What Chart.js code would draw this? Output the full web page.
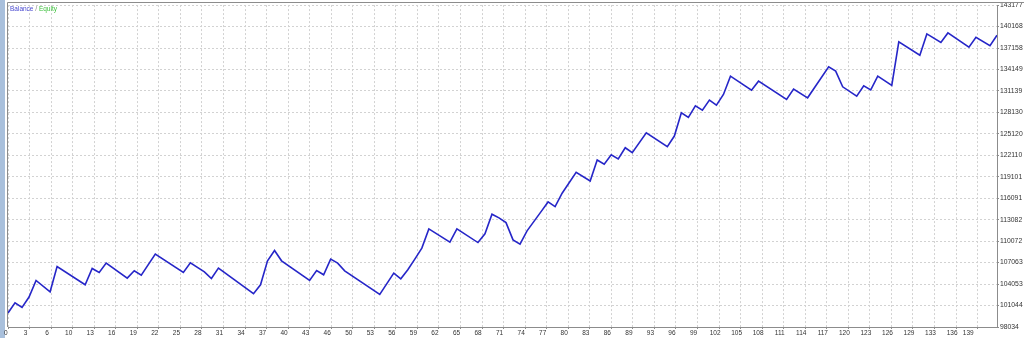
<!DOCTYPE html>
<html>
<head>
<meta charset="utf-8">
<script src="https://cdn.jsdelivr.net/npm/chart.js@4.4.1/dist/chart.umd.min.js"></script>
<style>
  html, body { margin: 0; padding: 0; background: #fff; }
  #wrap { position: relative; width: 1024px; height: 338px; overflow: hidden; }
  #edge { position: absolute; left: 0; top: 0; width: 5px; height: 338px; background: #a9c0dc; }
  #chart { position: absolute; left: 0; top: 0; }
  #title { position: absolute; left: 10px; top: 5px; font: 6.5px 'Liberation Sans', sans-serif; color: #888; white-space: nowrap; }
  #title .bal { color: #4a4ad0; }
  #title .eq { color: #3cc03c; }
</style>
</head>
<body>
<div id="wrap">
  <div id="edge"></div>
  <canvas id="chart" width="1024" height="338"></canvas>
  <div id="title"><span class="bal">Balance</span> / <span class="eq">Equity</span></div>
</div>
<script>
// ── Data (trade number -> balance) ─────────────────────────────────
const TRADES = [
  0, 1, 2, 3, 4, 6, 7, 11, 12, 13, 14, 17, 18, 19, 21, 25, 26, 28, 29, 30,
  35, 36, 37, 38, 39, 43, 44, 45, 46, 47, 48, 53, 55, 56, 57, 58, 59, 60, 63, 64,
  67, 68, 69, 70, 71, 72, 73, 74, 76, 77, 78, 79, 81, 83, 84, 85, 86, 87, 88, 89,
  91, 94, 95, 96, 97, 98, 99, 100, 101, 102, 103, 106, 107, 111, 112, 114, 117, 118, 119, 121,
  122, 123, 124, 126, 127, 130, 131, 133, 134, 137, 138, 140, 141,
];
const BALANCE = [
  100000, 101435, 100778, 102233, 104557, 102975, 106517, 103955, 106237, 105677,
  106993, 104893, 105915, 105313, 108253, 105677, 107035, 105775, 104837, 106293,
  102695, 103955, 107315, 108756, 107315, 104557, 105957, 105355, 107553, 106993,
  105915, 102597, 105593, 104795, 106055, 107553, 109092, 111794, 109932, 111794,
  109876, 111094, 113852, 113334, 112676, 110254, 109652, 111514, 114216, 115573,
  114916, 116791, 119731, 118513, 121453, 120851, 122195, 121593, 123174, 122474,
  125274, 123314, 124812, 128074, 127430, 129054, 128452, 129851, 129151, 130649,
  133211, 131251, 132511, 129949, 131391, 130173, 134513, 133911, 131713, 130411,
  131853, 131293, 133211, 131909, 138012, 136151, 139132, 137928, 139272, 137270,
  138670, 137480, 138950,
];
const X_LABELS = [
  '0', '3', '6', '10', '13', '16', '19', '22', '25', '28', '31', '34', '37', '40', '43', '46',
  '50', '53', '56', '59', '62', '65', '68', '71', '74', '77', '80', '83', '86', '89',
  '93', '96', '99', '102', '105', '108', '111', '114', '117', '120', '123', '126', '129',
  '133', '136', '139',
];
const Y_TICKS = [
  98034, 101044, 104053, 107063, 110072, 113082, 116091, 119101,
  122110, 125120, 128130, 131139, 134149, 137158, 140168, 143177,
];

// ── Style ───────────────────────────────────────────────────────────
const GRID_STEP = 3.072;          // trades between vertical grid lines
const AXIS_COLOR = '#8c8c8c';
const GRID_COLOR = '#d2d2d2';
const TEXT_COLOR = '#333333';
const FONT = "'Liberation Sans', sans-serif";

// frame lines of the tester window (top edge + left edge)
const framePlugin = {
  id: 'frame',
  beforeDatasetsDraw(chart) {
    const { ctx, chartArea: a } = chart;
    ctx.save();
    ctx.strokeStyle = AXIS_COLOR;
    ctx.lineWidth = 1;
    ctx.beginPath();
    ctx.moveTo(a.left - 0.5, 2.5);
    ctx.lineTo(chart.width, 2.5);
    ctx.moveTo(a.left - 0.5, 2.5);
    ctx.lineTo(a.left - 0.5, a.bottom);
    ctx.stroke();
    ctx.restore();
  },
};

const points = TRADES.map((t, i) => ({ x: t, y: BALANCE[i] }));

new Chart(document.getElementById('chart').getContext('2d'), {
  type: 'line',
  data: {
    datasets: [{
      label: 'Balance',
      data: points,
      borderColor: '#2626c8',
      borderWidth: 1.6,
      pointRadius: 0,
      tension: 0,
      fill: false,
    }],
  },
  options: {
    responsive: false,
    animation: false,
    layout: { padding: { left: 8, top: 5, right: 0, bottom: 0 } },
    plugins: { legend: { display: false }, tooltip: { enabled: false } },
    scales: {
      x: {
        type: 'linear',
        min: 0,
        max: TRADES[TRADES.length - 1],
        afterBuildTicks: (s) => { s.ticks = X_LABELS.map((_, k) => ({ value: k * GRID_STEP })); },
        afterFit: (s) => { s.height = 11; },
        grid: { color: GRID_COLOR, tickLength: 2, tickColor: AXIS_COLOR },
        border: { color: AXIS_COLOR, dash: [2, 2] },
        ticks: {
          autoSkip: false, maxRotation: 0, padding: 0, labelOffset: -4, align: 'inner',
          color: TEXT_COLOR, font: { family: FONT, size: 6.5 },
          callback: (v, i) => X_LABELS[i],
        },
      },
      y: {
        position: 'right',
        min: Y_TICKS[0],
        max: Y_TICKS[Y_TICKS.length - 1],
        afterBuildTicks: (s) => { s.ticks = Y_TICKS.map((v) => ({ value: v })); },
        afterFit: (s) => { s.width = 27; },
        grid: { color: GRID_COLOR, tickLength: 2, tickColor: AXIS_COLOR },
        border: { color: AXIS_COLOR, dash: [2, 2] },
        ticks: {
          padding: 1,
          color: TEXT_COLOR, font: { family: FONT, size: 6.8 },
          callback: (v) => String(v),
        },
      },
    },
  },
  plugins: [framePlugin],
});
</script>
</body>
</html>
